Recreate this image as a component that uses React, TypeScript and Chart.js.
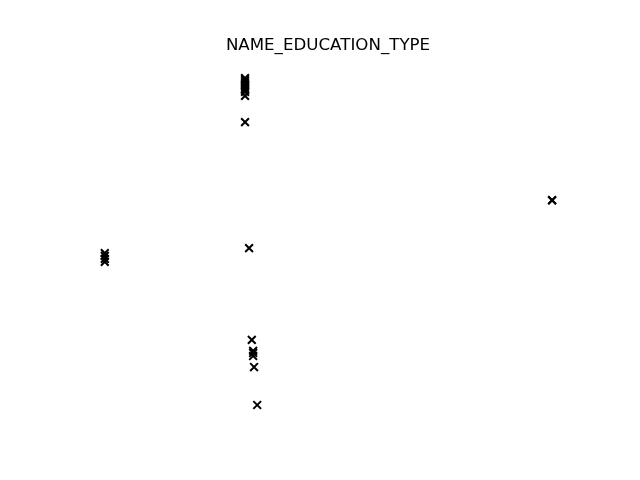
import React, { useEffect, useRef } from "react";
import { Chart, registerables } from "chart.js";

Chart.register(...registerables);

const titleText = "NAME_EDUCATION_TYPE";
const xValues = [3.16, 3.16, 3.16, 3.16, 3.16, 3.16, 3.16, 3.16, 3.16, 3.16, 0.05, 0.05, 0.05, 0.05, 9.97, 9.97, 3.25, 3.31, 3.34, 3.34, 3.34, 3.36, 3.43];
const yValues = [9.89, 9.83, 9.77, 9.71, 9.66, 9.6, 9.54, 9.48, 9.36, 8.58, 4.68, 4.6, 4.51, 4.42, 6.26, 6.25, 4.83, 2.1, 1.77, 1.71, 1.62, 1.29, 0.16];

export default function App() {
  const ref = useRef<HTMLCanvasElement | null>(null);
  useEffect(() => {
    if (!ref.current) return;
    const points = xValues.map((x, i) => ({ x, y: yValues[i] }));
    const chart = new Chart(ref.current, {
      type: "scatter",
      data: {
        datasets: [
          {
            data: points,
            pointStyle: "crossRot",
            pointRadius: 5.5,
            pointBorderWidth: 2,
            borderColor: "#000000",
            backgroundColor: "#000000",
          },
        ],
      },
      options: {
        responsive: false,
        animation: false,
        layout: { padding: { left: 80, right: 64, top: 0, bottom: 52.8 } },
        plugins: {
          legend: { display: false },
          tooltip: { enabled: false },
          title: {
            display: true,
            text: titleText,
            fullSize: false,
            color: "#000000",
            font: { family: "DejaVu Sans", size: 16.67, weight: "normal", lineHeight: 1.2 },
            padding: { top: 36, bottom: 1.6 },
          },
        },
        scales: {
          x: { type: "linear", display: false, min: -0.5, max: 10.5 },
          y: { type: "linear", display: false, min: -0.5, max: 10.5 },
        },
      },
    });
    return () => chart.destroy();
  }, []);
  return (
    <div style={{ position: "fixed", left: 0, top: 0, width: 640, height: 480, background: "#ffffff" }}>
      <canvas ref={ref} width={640} height={480} style={{ width: 640, height: 480, display: "block" }} />
    </div>
  );
}
